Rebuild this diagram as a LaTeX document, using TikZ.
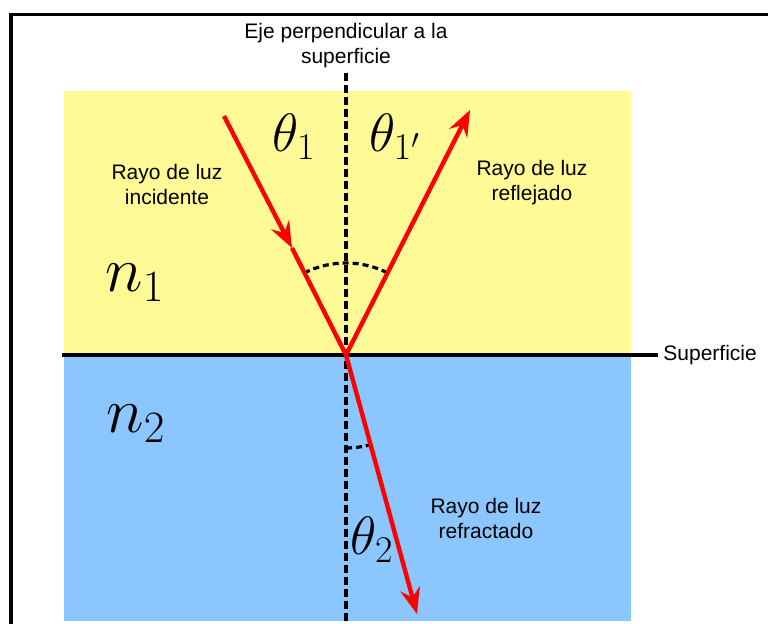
\RequirePackage{fix-cm}
\documentclass[tikz,border=0pt]{standalone}
\usepackage[no-math]{fontspec}
\newfontfamily\labelfont{Liberation Sans}
\usepackage{tikz}
\usetikzlibrary{arrows.meta}
\definecolor{airyellow}{RGB}{255,250,150}
\definecolor{waterblue}{RGB}{140,198,255}
\definecolor{rayred}{RGB}{255,0,0}

\begin{document}
\begin{tikzpicture}[x=0.5pt, y=0.5pt, >={Stealth[length=13pt, width=10pt, inset=4.5pt]},
  lbl/.style={font=\labelfont\fontsize{10.5}{12.5}\selectfont, align=center, inner sep=0pt},
  sym/.style={font=\fontsize{27}{30}\selectfont, inner sep=0pt},
  idx/.style={font=\fontsize{32}{36}\selectfont, inner sep=0pt},
  ray/.style={line width=2.2pt, rayred},
  axis/.style={line width=2.2pt, dash pattern=on 4pt off 2pt},
  angmark/.style={line width=1.6pt, dash pattern=on 3pt off 2pt}]
  \clip (0,0) rectangle (768,624);
  % the two media and the frame
  \fill[airyellow] (64,269) rectangle (631,533);
  \fill[waterblue] (64,3) rectangle (631,269);
  \draw[line width=1.5pt] (11,-10) -- (11,609) -- (780,609);
  \coordinate (O) at (346,269);
  \coordinate (AxT) at (346,551);
  \coordinate (AxB) at (346,-5);
  \coordinate (SurfL) at (62,269);
  \coordinate (InS) at (224,508);
  \coordinate (InM) at (292,376);
  \coordinate (RefE) at (470,514);
  \coordinate (TraE) at (417,10);
  % texts
  \node[lbl] (Eje) at (346,578) {Eje perpendicular a la\\superficie};
  \node[lbl, anchor=west] (Sup) at (663,269) {Superficie};
  \node[lbl] (Inc) at (167,439) {Rayo de luz\\incidente};
  \node[lbl] (Ref) at (532,441) {Rayo de luz\\reflejado};
  \node[lbl] (Tra) at (486,105) {Rayo de luz\\refractado};
  \node[sym] (T1) at (294,487) {$\theta_1$};
  \node[sym] (T1p) at (395,487) {$\theta_{1'}$};
  \node[sym] (T2) at (372,84) {$\theta_2$};
  \node[idx] (N1) at (135,341) {$n_1$};
  \node[idx] (N2) at (136,200) {$n_2$};
  % surface and normal
  \draw[line width=1.6pt, shorten >=2.5pt] (SurfL) -- (Sup.west);
  \draw[axis] (AxT) -- (AxB);
  % angle marks
  \draw[angmark] (O) ++(117:92) arc[start angle=117, end angle=63, radius=92];
  \draw[angmark] (O) ++(270:93) arc[start angle=270, end angle=285.3, radius=93];
  % rays
  \draw[ray, ->] (InS) -- (InM);
  \draw[ray] (InM) -- (O);
  \draw[ray, ->] (O) -- (RefE);
  \draw[ray, ->] (O) -- (TraE);
\end{tikzpicture}
\end{document}
